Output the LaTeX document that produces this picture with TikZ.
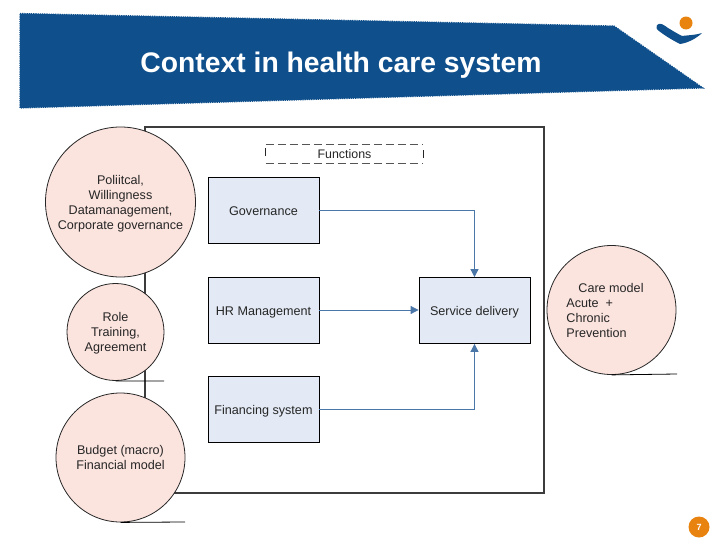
\documentclass[tikz,border=0pt]{standalone}
\usepackage{fontspec}
\setmainfont{Liberation Sans}
\usetikzlibrary{arrows.meta}
\definecolor{banner}{HTML}{0E4F8C}
\definecolor{orangedot}{HTML}{E8830F}
\definecolor{boxfill}{HTML}{E3EAF5}
\definecolor{circfill}{HTML}{FBE3DE}
\definecolor{linkblue}{HTML}{4A76A8}
\definecolor{inkline}{HTML}{262626}
\definecolor{frameline}{HTML}{3C3C3C}
\definecolor{dashline}{HTML}{555555}
\tikzset{
  x=1pt,y=-1pt,
  every node/.style={font=\fontsize{12.6}{15}\selectfont,text=inkline},
  funcbox/.style={draw=black,line width=0.8pt,fill=boxfill,minimum width=111pt,minimum height=66pt,inner sep=0pt,anchor=center,text height=12pt,text depth=2pt},
  bubble/.style={circle,draw=inkline,line width=0.8pt,fill=circfill,inner sep=0pt,align=center},
  baseline rule/.style={draw=black,line width=0.8pt},
  link/.style={draw=linkblue,line width=0.8pt,-{Triangle[length=8pt,width=8pt,fill=linkblue]}},
  legend dash/.style={draw=dashline,line width=1.2pt,dash pattern=on 8pt off 4pt},
  legend tick/.style={draw=inkline,line width=0.9pt},
}
\begin{document}
\begin{tikzpicture}
\useasboundingbox (0,0) rectangle (728,546);
\fill[white] (0,0) rectangle (728,546);
% banner
\filldraw[fill=banner,draw=banner,densely dotted,line width=1.2pt] (20,13.5) -- (614,26) -- (703,88) -- (20,108) -- cycle;
\node[font=\fontsize{28.3}{32}\bfseries\selectfont,text=white] (title) at (341,65) {Context in health care system};
% logo
\fill[orangedot] (686,23) circle (6.5);
\fill[banner] (657,25) .. controls (660,22) and (664,25) .. (668,28) .. controls (673,31) and (678,34) .. (682,36) .. controls (690,35) and (696,35) .. (702,33) .. controls (697,38) and (688,43) .. (680,44) .. controls (672,40) and (664,35) .. (659,31) .. controls (656,29) and (656,27) .. (657,25) -- cycle;
% frame
\draw[draw=frameline,line width=1.2pt] (145,127) rectangle (544,493);
% functions legend
\node[minimum width=157pt,minimum height=18pt,inner sep=0pt] (functions) at (344.5,154) {\fontsize{12.4}{14}\selectfont Functions};
\draw[legend dash] (functions.north west) -- (functions.north east);
\draw[legend dash] (functions.south west) -- (functions.south east);
\draw[legend tick] ([yshift=-2pt]functions.west) -- ([yshift=6pt]functions.west);
\draw[legend tick] ([yshift=-4pt]functions.east) -- ([yshift=4pt]functions.east);
% boxes
\node[funcbox] (gov) at (263.5,210) {Governance};
\node[funcbox] (hr) at (263.5,310) {HR Management};
\node[funcbox] (fin) at (263.5,409.5) {Financing system};
\node[funcbox] (svc) at (474.5,310.5) {Service delivery};
\draw[link] (gov.east) -| (svc.north);
\draw[link] (hr.east) -- (hr.east -| svc.west);
\draw[link] (fin.east) -| (svc.south);
% circles
\node[bubble,minimum size=150pt] (political) at (120.5,202) {\rule{0pt}{2pt}\\[-5pt]Poliitcal,\\Willingness\\Datamanagement,\\Corporate governance};
\node[bubble,minimum size=97pt] (role) at (115.5,332) {\rule{0pt}{2pt}\\[-5pt]Role\\Training,\\Agreement};
\node[bubble,minimum size=129pt] (budget) at (120.5,457.5) {Budget (macro)\\Financial model};
\node[bubble,minimum size=129pt,align=left] (care) at (611.5,310) {\hspace{12pt}Care model\hspace{13pt}\null\\Acute~~+\\Chronic\\Prevention};
% tangent rules
\coordinate (roleEnd) at (164,381);
\coordinate (budgetEnd) at (185,522);
\coordinate (careEnd) at (677,374);
\draw[baseline rule] (role.south) -- (roleEnd);
\draw[baseline rule] (budget.south) -- (budgetEnd);
\draw[baseline rule] (care.south) -- (careEnd);
% page number
\node[circle,fill=orangedot,minimum size=21pt,inner sep=0pt,font=\fontsize{9}{10}\bfseries\selectfont,text=white] (page) at (699,527) {7};
\end{tikzpicture}
\end{document}
